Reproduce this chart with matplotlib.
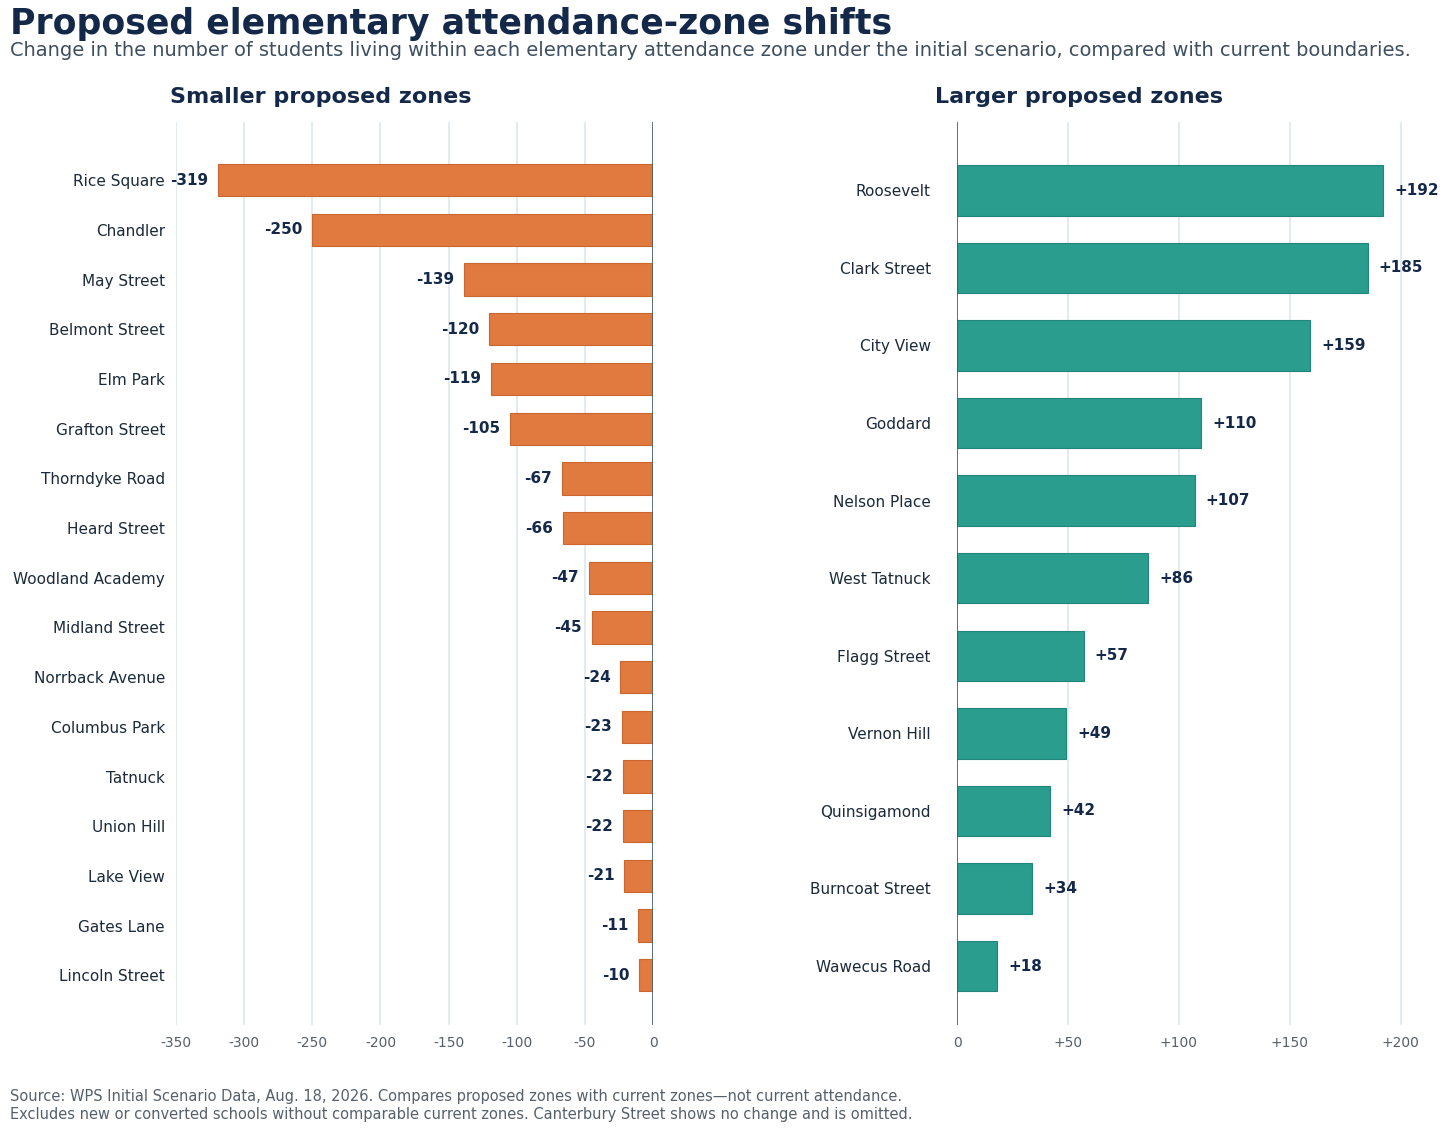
import matplotlib.pyplot as plt
import numpy as np

# values
smaller_names = ["Rice Square", "Chandler", "May Street", "Belmont Street", "Elm Park",
                 "Grafton Street", "Thorndyke Road", "Heard Street", "Woodland Academy",
                 "Midland Street", "Norrback Avenue", "Columbus Park", "Tatnuck",
                 "Union Hill", "Lake View", "Gates Lane", "Lincoln Street"]
smaller_vals = [-319, -250, -139, -120, -119, -105, -67, -66, -47, -45, -24, -23, -22,
                -22, -21, -11, -10]

larger_names = ["Roosevelt", "Clark Street", "City View", "Goddard", "Nelson Place",
                "West Tatnuck", "Flagg Street", "Vernon Hill", "Quinsigamond",
                "Burncoat Street", "Wawecus Road"]
larger_vals = [192, 185, 159, 110, 107, 86, 57, 49, 42, 34, 18]

left_ticks = [-350, -300, -250, -200, -150, -100, -50, 0]
right_ticks = [0, 50, 100, 150, 200]

NAVY = "#14294a"
ORANGE = "#e07a3f"
TEAL = "#2a9d8f"
GRID = "#dce6ea"
TICKC = "#55606b"

plt.rcParams['font.family'] = ['DejaVu Sans']

fig = plt.figure(figsize=(14.56, 11.32), dpi=100)
axL = fig.add_axes([0.1209, 0.0945, 0.3276, 0.7977])
axR = fig.add_axes([0.6573, 0.0945, 0.3201, 0.7977])


def style(ax, ypad):
    for s in ax.spines.values():
        s.set_visible(False)
    ax.grid(axis='x', color=GRID, lw=1.1)
    ax.set_axisbelow(True)
    ax.tick_params(axis='y', length=0, pad=ypad, labelsize=11, labelcolor="#1b2a3a")
    ax.tick_params(axis='x', length=0, pad=8, labelsize=10, labelcolor=TICKC)
    ax.axvline(0, color="#4a5a6a", lw=1.2, zorder=3)


# left panel
yL = np.arange(len(smaller_names))
axL.barh(yL, smaller_vals, height=0.65, color=ORANGE, edgecolor="#c9672f", lw=0.8, zorder=2)
axL.set_yticks(yL)
axL.set_yticklabels(smaller_names)
axL.set_xlim(-350, 0)
axL.set_xticks(left_ticks)
axL.set_xticklabels([str(t) for t in left_ticks])
axL.set_ylim(len(smaller_names) - 1 + 1.0, -1.17)
for y, v in zip(yL, smaller_vals):
    axL.annotate(str(v), (v, y), xytext=(-7, 0), textcoords='offset points',
                 ha='right', va='center', fontsize=11, fontweight='bold', color=NAVY, zorder=4)
style(axL, 8)

# right panel
yR = np.arange(len(larger_names))
axR.barh(yR, larger_vals, height=0.65, color=TEAL, edgecolor="#228579", lw=0.8, zorder=2)
axR.set_yticks(yR)
axR.set_yticklabels(larger_names)
axR.set_xlim(0, 210)
axR.set_xticks(right_ticks)
axR.set_xticklabels(["0"] + ["+%d" % t for t in right_ticks[1:]])
axR.set_ylim(len(larger_names) - 1 + 0.76, -0.88)
for y, v in zip(yR, larger_vals):
    axR.annotate("+%d" % v, (v, y), xytext=(8, 0), textcoords='offset points',
                 ha='left', va='center', fontsize=11, fontweight='bold', color=NAVY, zorder=4)
style(axR, 19)

fig.text(10 / 1456, 1 - 24 / 1132, "Proposed elementary attendance-zone shifts",
         fontsize=25, fontweight='bold', color=NAVY, va='center', ha='left')
fig.text(10 / 1456, 1 - 51 / 1132,
         "Change in the number of students living within each elementary attendance zone "
         "under the initial scenario, compared with current boundaries.",
         fontsize=13.95, color="#3d4f60", va='center', ha='left')
fig.text(170 / 1456, 1 - 97 / 1132, "Smaller proposed zones", fontsize=16,
         fontweight='bold', color=NAVY, va='center', ha='left')
fig.text(935 / 1456, 1 - 97 / 1132, "Larger proposed zones", fontsize=16,
         fontweight='bold', color=NAVY, va='center', ha='left')
fig.text(10 / 1456, 1 - 1096 / 1132,
         "Source: WPS Initial Scenario Data, Aug. 18, 2026. Compares proposed zones with "
         "current zones\u2014not current attendance.",
         fontsize=10.55, color="#55606b", va='center', ha='left')
fig.text(10 / 1456, 1 - 1114 / 1132,
         "Excludes new or converted schools without comparable current zones. "
         "Canterbury Street shows no change and is omitted.",
         fontsize=10.55, color="#55606b", va='center', ha='left')

fig.savefig("out.png", dpi=100, facecolor="white")
